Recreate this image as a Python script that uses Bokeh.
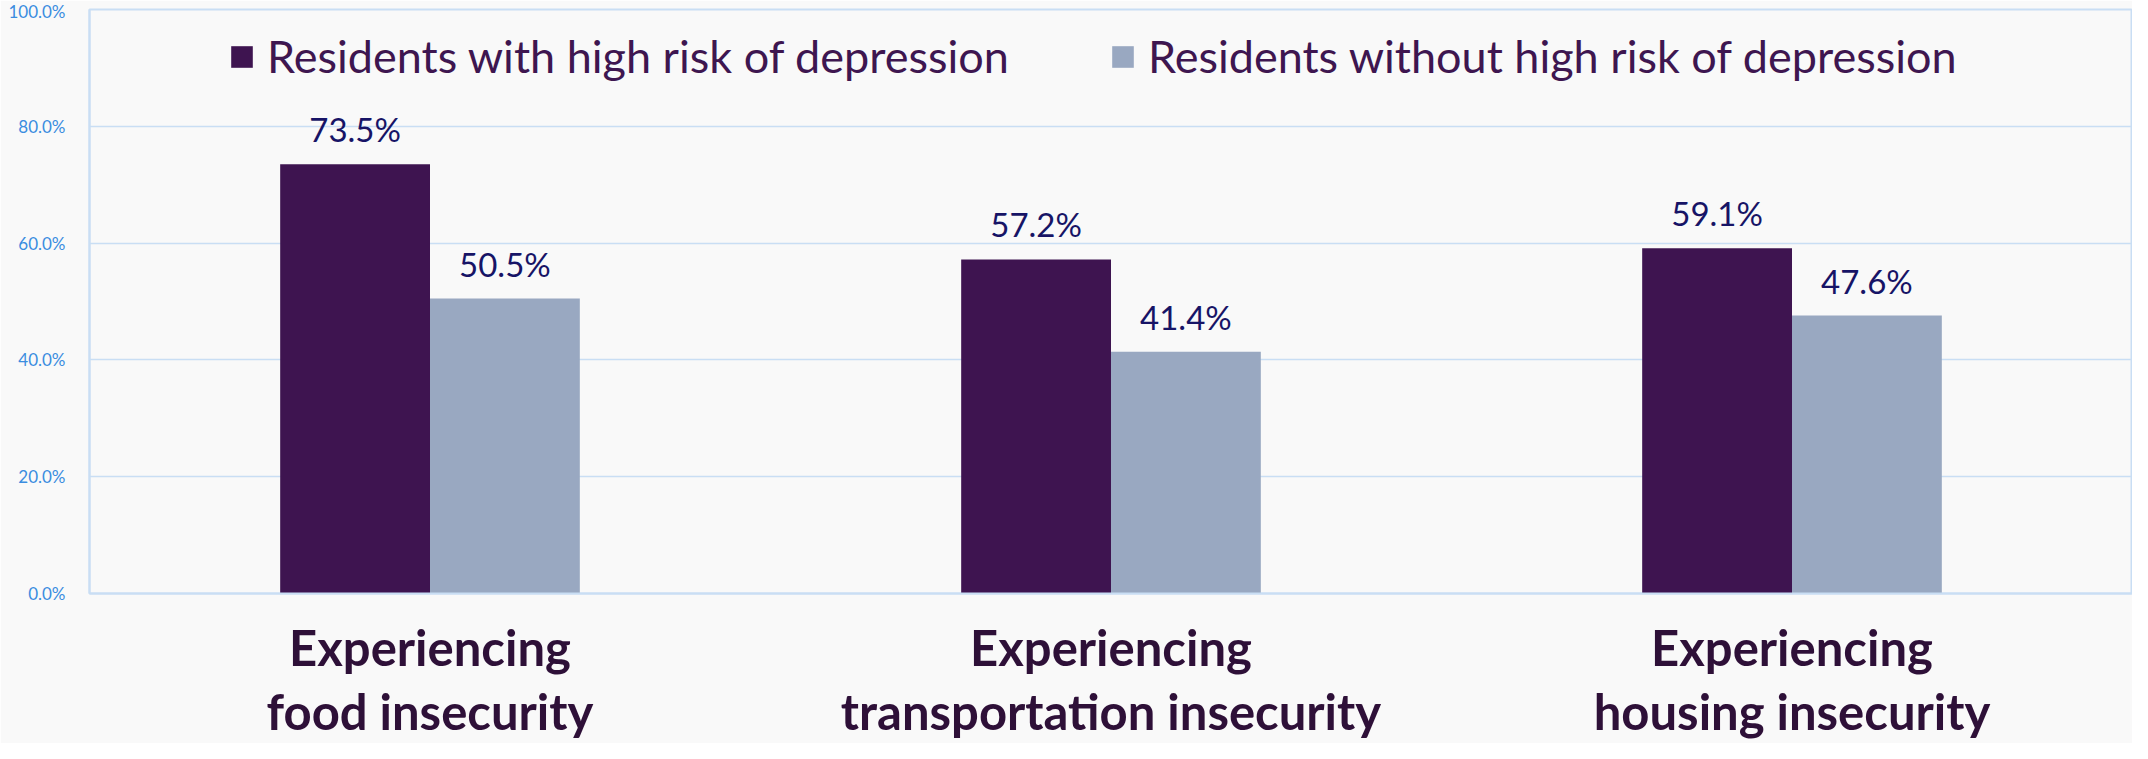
from bokeh.plotting import figure
from bokeh.models import FactorRange, FixedTicker, PrintfTickFormatter, ColumnDataSource
from bokeh.transform import dodge
from bokeh.core.properties import value
from bokeh.embed import file_html
from bokeh.resources import INLINE

categories = ["Experiencing\nfood insecurity",
              "Experiencing\ntransportation insecurity",
              "Experiencing\nhousing insecurity"]
series_names = ["Residents with high risk of depression",
                "Residents without high risk of depression"]
high_risk = [73.5, 57.2, 59.1]
no_high_risk = [50.5, 41.4, 47.6]
y_ticks = [0, 20, 40, 60, 80, 100]

colors = ["#3e1450", "#99a8c1"]
BG = "#f9f9f9"
GRID = "#c9def4"
FONT = "Lato"

p = figure(x_range=FactorRange(*categories), y_range=(0, 100),
           width=2132, height=743, output_backend="svg", toolbar_location=None,
           min_border_left=89, min_border_right=0, min_border_top=9, min_border_bottom=150)
p.background_fill_color = BG
p.border_fill_color = BG
p.outline_line_color = GRID
p.outline_line_width = 2

src = ColumnDataSource(dict(
    cat=categories,
    high=high_risk,
    low=no_high_risk,
    high_lbl=[f"{v:.1f}%" for v in high_risk],
    low_lbl=[f"{v:.1f}%" for v in no_high_risk],
))

bw = 0.22
p.vbar(x=dodge("cat", -bw / 2, range=p.x_range), top="high", width=bw, source=src,
       fill_color=colors[0], line_color=None, legend_label=series_names[0])
p.vbar(x=dodge("cat", bw / 2, range=p.x_range), top="low", width=bw, source=src,
       fill_color=colors[1], line_color=None, legend_label=series_names[1])

for col, off in (("high", -bw / 2), ("low", bw / 2)):
    p.text(x=dodge("cat", off, range=p.x_range), y=col, text=col + "_lbl", source=src,
           text_align="center", text_baseline="bottom", y_offset=-15,
           text_font=value(FONT), text_font_size="33px", text_color="#171466")

# axes
p.yaxis.ticker = FixedTicker(ticks=y_ticks)
p.yaxis.formatter = PrintfTickFormatter(format="%.1f%%")
p.yaxis.major_label_text_font = FONT
p.yaxis.major_label_text_font_size = "17px"
p.yaxis.major_label_text_color = "#3b8de0"
p.yaxis.major_tick_line_color = None
p.yaxis.minor_tick_line_color = None
p.yaxis.axis_line_color = GRID
p.yaxis.axis_line_width = 2
p.yaxis.major_label_standoff = 18

p.xaxis.major_label_text_font = FONT
p.xaxis.major_label_text_font_style = "bold"
p.xaxis.major_label_text_font_size = "49px"
p.xaxis.major_label_text_color = "#2e1038"
p.xaxis.major_label_text_line_height = 1.12
p.xaxis.major_label_standoff = 18
p.xaxis.major_tick_line_color = None
p.xaxis.minor_tick_line_color = None
p.xaxis.axis_line_color = GRID
p.xaxis.axis_line_width = 2

p.xgrid.grid_line_color = None
p.ygrid.grid_line_color = GRID
p.ygrid.grid_line_width = 1.5

# legend
lg = p.legend[0]
lg.location = (129, 500)
lg.orientation = "horizontal"
lg.background_fill_alpha = 0
lg.border_line_alpha = 0
lg.label_text_font = FONT
lg.label_text_font_size = "45px"
lg.label_text_color = "#3e1650"
lg.glyph_width = 27
lg.glyph_height = 27
lg.label_standoff = 12
lg.spacing = 100

open("out.html", "w").write(file_html(p, INLINE))
